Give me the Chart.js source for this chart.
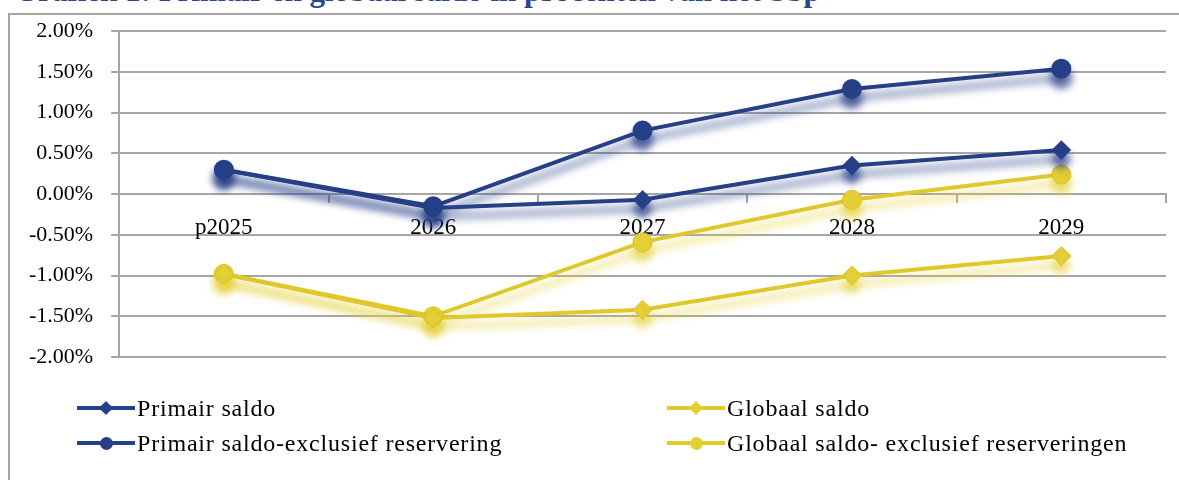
<!DOCTYPE html>
<html>
<head>
<meta charset="utf-8">
<script src="https://cdn.jsdelivr.net/npm/chart.js@4"></script>
<style>
  body { margin: 0; background: #fff; }
  #wrap { position: relative; width: 1179px; height: 480px; overflow: hidden; font-family: "Liberation Serif", serif; }
  #title { position: absolute; left: 14px; top: -27px; font: bold 31px "Liberation Serif", serif; color: #2c468c; white-space: nowrap; }
  #frame { position: absolute; left: 8px; top: 13px; width: 1200px; height: 500px; border-left: 2px solid #a6a6a6; border-top: 2px solid #a6a6a6; box-sizing: border-box; }
  canvas { position: absolute; left: 0; top: 0; }
  .leg { position: absolute; font-size: 24px; letter-spacing: 0.8px; color: #000; white-space: nowrap; line-height: 1; }
  .leg .mk { position: absolute; left: -60px; top: 50%; width: 58px; height: 4px; margin-top: -2px; }
  .leg .dot { position: absolute; left: 50%; top: 50%; }
</style>
</head>
<body>
<div id="wrap">
  <div id="title">Grafiek 1: Primair en globaal saldo in procenten van het bbp</div>
  <div id="frame"></div>
  <canvas id="myChart" width="1179" height="480"></canvas>
</div>
<script>
'use strict';

let years = ['p2025', '2026', '2027', '2028', '2029'];
let primairSaldo = [0.30, -0.17, -0.07, 0.35, 0.54];
let globaalSaldo = [-0.98, -1.52, -1.42, -1.00, -0.76];
let primairExcl = [0.30, -0.15, 0.78, 1.29, 1.54];
let globaalExcl = [-0.98, -1.50, -0.59, -0.07, 0.24];
let yTicks = [-2, -1.5, -1, -0.5, 0, 0.5, 1, 1.5, 2];

let blue = '#263f87';
let yellow = '#e0c82a';

// soft drop shadow under every line, like the office chart
let shadowPlugin = {
  id: 'shadow',
  beforeDatasetDraw(chart, args) {
    let ctx = chart.ctx;
    let ds = chart.data.datasets[args.index];
    ctx.save();
    ctx.shadowColor = ds.shadow;
    ctx.shadowBlur = 8;
    ctx.shadowOffsetX = 0;
    ctx.shadowOffsetY = 9;
  },
  afterDatasetDraw(chart) {
    chart.ctx.restore();
  }
};

let ctx = document.getElementById('myChart').getContext('2d');
let chart = new Chart(ctx, {
  type: 'line',
  data: {
    labels: years,
    datasets: [{
      label: 'Primair saldo',
      data: primairSaldo,
      borderColor: blue,
      backgroundColor: blue,
      borderWidth: 4,
      pointStyle: 'rectRot',
      pointRadius: 7,
      shadow: 'rgba(38,63,135,0.8)'
    }, {
      label: 'Globaal saldo',
      data: globaalSaldo,
      borderColor: yellow,
      backgroundColor: '#e4cf36',
      borderWidth: 4,
      pointStyle: 'rectRot',
      pointRadius: 9.5,
      pointBorderColor: '#d9c024',
      pointBorderWidth: 1,
      shadow: 'rgba(228,207,54,0.75)'
    }, {
      label: 'Primair saldo-exclusief reservering',
      data: primairExcl,
      borderColor: blue,
      backgroundColor: blue,
      borderWidth: 4,
      pointStyle: 'circle',
      pointRadius: 8,
      shadow: 'rgba(38,63,135,0.8)'
    }, {
      label: 'Globaal saldo- exclusief reserveringen',
      data: globaalExcl,
      borderColor: yellow,
      backgroundColor: '#e4cf36',
      borderWidth: 4,
      pointStyle: 'circle',
      pointRadius: 9.5,
      pointBorderColor: '#d9c024',
      pointBorderWidth: 1,
      shadow: 'rgba(228,207,54,0.75)'
    }]
  },
  options: {
    responsive: false,
    animation: false,
    layout: { padding: { left: 11, top: 30, right: 13, bottom: 123 } },
    plugins: {
      legend: { display: false },
      tooltip: { enabled: false }
    },
    scales: {
      x: {
        position: { y: 0 },
        offset: true,
        grid: { offset: true, drawOnChartArea: false, drawTicks: true, tickLength: 8, color: '#a6a6a6', lineWidth: 2 },
        border: { color: '#a6a6a6', width: 2 },
        ticks: { color: '#000', font: { family: 'Liberation Serif', size: 23 }, padding: 12, maxRotation: 0 }
      },
      y: {
        min: -2,
        max: 2,
        afterBuildTicks(scale) {
          scale.ticks = yTicks.map(v => ({ value: v }));
        },
        grid: { color: '#a6a6a6', lineWidth: 2, tickLength: 8 },
        border: { color: '#a6a6a6', width: 2 },
        ticks: {
          color: '#000',
          font: { family: 'Liberation Serif', size: 22 },
          padding: 18,
          callback: v => v.toFixed(2) + '%'
        }
      }
    }
  },
  plugins: [shadowPlugin]
});

// legend in two columns, built from the datasets
let legendSpots = [[137, 408], [727, 408], [137, 443], [727, 443]];
let wrap = document.getElementById('wrap');
chart.data.datasets.forEach(function(ds, i) {
  let item = document.createElement('div');
  item.className = 'leg';
  item.style.left = legendSpots[i][0] + 'px';
  item.style.top = (legendSpots[i][1] - 12) + 'px';
  item.style.height = '24px';
  item.style.lineHeight = '24px';
  item.textContent = ds.label;
  let mk = document.createElement('span');
  mk.className = 'mk';
  mk.style.background = ds.borderColor;
  let dot = document.createElement('span');
  dot.className = 'dot';
  let size = ds.pointStyle === 'circle' ? 13 : 10;
  dot.style.width = size + 'px';
  dot.style.height = size + 'px';
  dot.style.marginLeft = (-size / 2) + 'px';
  dot.style.marginTop = (-size / 2) + 'px';
  dot.style.background = ds.backgroundColor;
  if (ds.pointStyle === 'circle') {
    dot.style.borderRadius = '50%';
  } else {
    dot.style.transform = 'rotate(45deg)';
  }
  mk.appendChild(dot);
  item.appendChild(mk);
  wrap.appendChild(item);
});
</script>
</body>
</html>
